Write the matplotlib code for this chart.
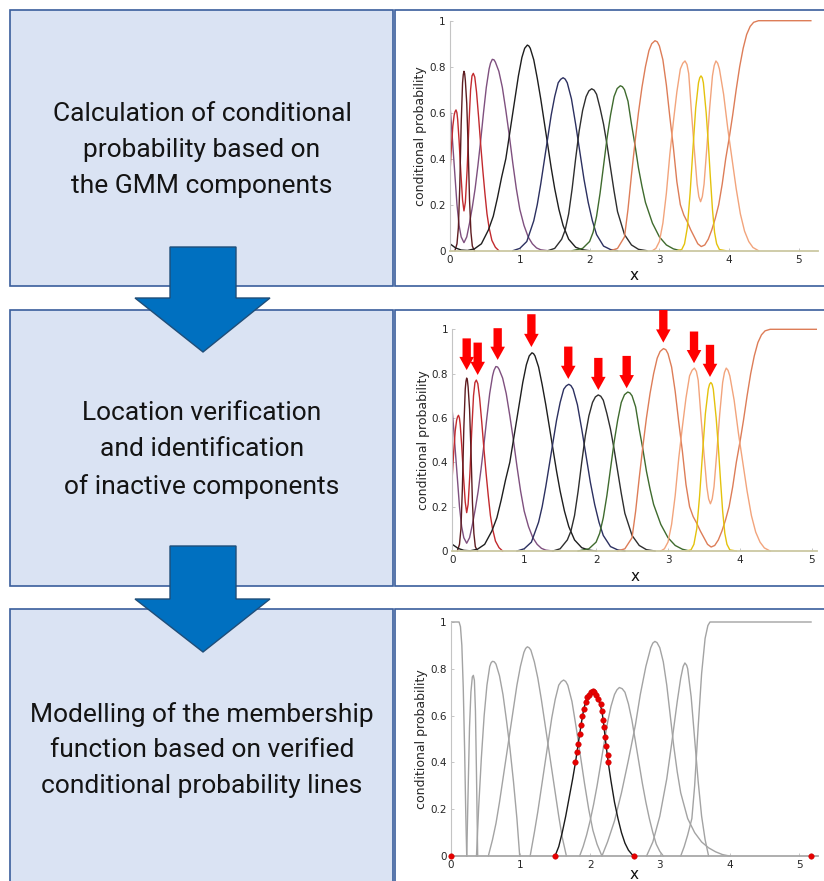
import matplotlib
matplotlib.use('Agg')
import matplotlib.pyplot as plt
from matplotlib.patches import Rectangle, Polygon

# ---------------- data ----------------
step_texts = ["Calculation of conditional\nprobability based on\nthe GMM components",
              "Location verification\nand identification\nof inactive components",
              "Modelling of the membership\nfunction based on verified\nconditional probability lines"]

y_ticks = [0, 0.2, 0.4, 0.6, 0.8, 1]
y_tick_labels = ['0', '0.2', '0.4', '0.6', '0.8', '1']
x_ticks = [0, 1, 2, 3, 4, 5]

red_x = [0, 0.02, 0.04, 0.06, 0.073, 0.086, 0.099, 0.11, 0.13, 0.155, 0.18, 0.20, 0.22, 0.245, 0.27, 0.295,
         0.315, 0.334, 0.355, 0.38, 0.41, 0.44, 0.47, 0.50, 0.53, 0.56, 0.60, 0.65, 0.70]
red_y = [0.34, 0.45, 0.54, 0.59, 0.605, 0.612, 0.60, 0.57, 0.48, 0.34, 0.22, 0.173, 0.21, 0.35, 0.54, 0.70,
         0.76, 0.771, 0.755, 0.69, 0.58, 0.46, 0.35, 0.25, 0.16, 0.10, 0.045, 0.015, 0.0]

maroon_x = [0.07, 0.10, 0.12, 0.14, 0.16, 0.18, 0.19, 0.20, 0.21, 0.22, 0.24, 0.26, 0.28, 0.30, 0.32, 0.35]
maroon_y = [0, 0.03, 0.10, 0.28, 0.55, 0.73, 0.765, 0.78, 0.77, 0.74, 0.64, 0.45, 0.22, 0.08, 0.02, 0]

purple_x = [0, 0.02, 0.04, 0.07, 0.10, 0.13, 0.16, 0.20, 0.24, 0.28, 0.32, 0.36, 0.40, 0.44, 0.48, 0.52, 0.56,
            0.58, 0.606, 0.63, 0.65, 0.70, 0.75, 0.80, 0.85, 0.90, 0.95, 1.00, 1.06, 1.12, 1.18, 1.24, 1.30, 1.40]
purple_y = [0.63, 0.55, 0.46, 0.33, 0.20, 0.11, 0.06, 0.035, 0.06, 0.12, 0.19, 0.27, 0.37, 0.48, 0.60, 0.71, 0.79,
            0.815, 0.832, 0.83, 0.82, 0.78, 0.71, 0.61, 0.50, 0.38, 0.27, 0.18, 0.11, 0.06, 0.03, 0.012, 0.004, 0]

black_x = [0, 0.08, 0.16, 0.25, 0.35, 0.45, 0.55, 0.62, 0.68, 0.74, 0.80, 0.86, 0.92, 0.98, 1.03, 1.07, 1.108,
           1.13, 1.15, 1.20, 1.25, 1.30, 1.35, 1.40, 1.45, 1.50, 1.56, 1.62, 1.70, 1.80, 1.90, 2.00]
black_y = [0.03, 0.012, 0.003, 0.001, 0.008, 0.03, 0.09, 0.15, 0.23, 0.32, 0.40, 0.52, 0.64, 0.76, 0.84, 0.88, 0.894,
           0.89, 0.88, 0.83, 0.75, 0.66, 0.56, 0.46, 0.36, 0.27, 0.18, 0.11, 0.05, 0.015, 0.004, 0]

navy_x = [0.90, 1.00, 1.10, 1.20, 1.25, 1.30, 1.35, 1.40, 1.45, 1.50, 1.55, 1.585, 1.62, 1.65, 1.68, 1.74, 1.80,
          1.86, 1.92, 1.98, 2.04, 2.10, 2.20, 2.30, 2.40]
navy_y = [0, 0.01, 0.04, 0.13, 0.20, 0.29, 0.39, 0.49, 0.59, 0.67, 0.73, 0.745, 0.752, 0.746, 0.73, 0.66, 0.55,
          0.43, 0.31, 0.21, 0.13, 0.07, 0.02, 0.005, 0]

grey_x = [1.40, 1.50, 1.60, 1.65, 1.70, 1.75, 1.80, 1.85, 1.90, 1.95, 1.99, 2.03, 2.065, 2.10, 2.15, 2.20, 2.25,
          2.30, 2.35, 2.40, 2.50, 2.60, 2.70, 2.82]
grey_y = [0, 0.01, 0.05, 0.09, 0.16, 0.27, 0.40, 0.52, 0.61, 0.67, 0.695, 0.704, 0.698, 0.68, 0.62, 0.55, 0.46,
          0.36, 0.26, 0.17, 0.07, 0.025, 0.006, 0]

green_x = [1.75, 1.90, 2.00, 2.05, 2.10, 2.15, 2.20, 2.25, 2.30, 2.35, 2.395, 2.44, 2.47, 2.50, 2.55, 2.60, 2.65,
           2.70, 2.75, 2.80, 2.90, 3.00, 3.10, 3.20, 3.30]
green_y = [0, 0.01, 0.04, 0.08, 0.15, 0.25, 0.37, 0.49, 0.59, 0.67, 0.705, 0.717, 0.713, 0.70, 0.65, 0.55, 0.46,
           0.36, 0.28, 0.21, 0.12, 0.06, 0.025, 0.008, 0]

coral_x = [2.30, 2.40, 2.50, 2.55, 2.60, 2.65, 2.70, 2.75, 2.80, 2.85, 2.89, 2.937, 2.97, 3.00, 3.05, 3.10, 3.15,
           3.20, 3.25, 3.30, 3.35, 3.40, 3.45, 3.50, 3.55, 3.60, 3.65, 3.70, 3.75, 3.80, 3.85, 3.90, 3.95, 4.00,
           4.05, 4.10, 4.15, 4.20, 4.25, 4.30, 4.35, 4.42, 5.17]
coral_y = [0, 0.01, 0.06, 0.18, 0.33, 0.47, 0.60, 0.71, 0.80, 0.87, 0.90, 0.913, 0.908, 0.89, 0.83, 0.72, 0.58,
           0.45, 0.30, 0.20, 0.155, 0.125, 0.09, 0.06, 0.03, 0.018, 0.025, 0.05, 0.09, 0.14, 0.20, 0.29, 0.40, 0.49,
           0.59, 0.70, 0.80, 0.88, 0.94, 0.975, 0.993, 1.0, 1.0]

lorange_x = [2.90, 2.95, 3.00, 3.05, 3.10, 3.15, 3.20, 3.25, 3.30, 3.335, 3.367, 3.395, 3.42, 3.46, 3.50, 3.54,
             3.565, 3.59, 3.615, 3.64, 3.68, 3.72, 3.76, 3.785, 3.81, 3.835, 3.86, 3.92, 3.98, 4.04, 4.10, 4.16,
             4.22, 4.28, 4.34, 4.42]
lorange_y = [0, 0.01, 0.04, 0.12, 0.25, 0.42, 0.56, 0.69, 0.79, 0.815, 0.825, 0.81, 0.77, 0.60, 0.44, 0.29,
             0.235, 0.213, 0.235, 0.29, 0.45, 0.62, 0.76, 0.805, 0.825, 0.815, 0.79, 0.68, 0.53, 0.40, 0.27, 0.16,
             0.085, 0.04, 0.014, 0]

yellow_x = [3.25, 3.32, 3.36, 3.40, 3.44, 3.48, 3.52, 3.56, 3.578, 3.596, 3.614, 3.63, 3.67, 3.70, 3.73, 3.76,
            3.79, 3.82, 3.86, 3.95]
yellow_y = [0, 0.005, 0.03, 0.10, 0.25, 0.44, 0.62, 0.73, 0.752, 0.76, 0.752, 0.73, 0.60, 0.47, 0.32, 0.18,
            0.08, 0.03, 0.005, 0]

# red arrows in the second panel: x position, tip height, tail height
arrow_x = [0.20, 0.353, 0.631, 1.10, 1.613, 2.031, 2.425, 2.935, 3.362, 3.584]
arrow_tip = [0.816, 0.794, 0.862, 0.92, 0.776, 0.726, 0.734, 0.94, 0.847, 0.785]
arrow_top = [0.959, 0.94, 1.005, 1.068, 0.922, 0.871, 0.88, 1.087, 0.99, 0.93]

# third panel: membership functions (grey) and the verified one (black)
g1_x = [0, 0.12, 0.14, 0.16, 0.18, 0.20, 0.215, 0.23]
g1_y = [1, 1, 0.98, 0.90, 0.72, 0.45, 0.20, 0]
g2_x = [0.23, 0.25, 0.27, 0.29, 0.31, 0.325, 0.34, 0.355, 0.37, 0.387]
g2_y = [0, 0.28, 0.55, 0.70, 0.765, 0.772, 0.75, 0.62, 0.35, 0]
g3_x = [0.37, 0.40, 0.44, 0.48, 0.52, 0.56, 0.58, 0.60, 0.625, 0.65, 0.70, 0.75, 0.80, 0.85, 0.90, 0.95, 0.99]
g3_y = [0, 0.20, 0.42, 0.60, 0.73, 0.81, 0.826, 0.832, 0.83, 0.82, 0.77, 0.69, 0.58, 0.46, 0.32, 0.16, 0]
g4_x = [0.54, 0.60, 0.65, 0.70, 0.75, 0.80, 0.85, 0.90, 0.95, 1.00, 1.05, 1.075, 1.10, 1.125, 1.15, 1.20, 1.25,
        1.30, 1.35, 1.40, 1.45, 1.50, 1.55, 1.60, 1.66]
g4_y = [0, 0.07, 0.14, 0.23, 0.33, 0.43, 0.53, 0.63, 0.73, 0.81, 0.87, 0.887, 0.894, 0.89, 0.88, 0.83, 0.76,
        0.67, 0.57, 0.47, 0.37, 0.27, 0.17, 0.08, 0]
g5_x = [1.14, 1.20, 1.25, 1.30, 1.35, 1.40, 1.45, 1.50, 1.55, 1.585, 1.62, 1.65, 1.68, 1.74, 1.80, 1.86, 1.92,
        1.98, 2.04, 2.10, 2.17]
g5_y = [0, 0.10, 0.19, 0.29, 0.39, 0.49, 0.59, 0.67, 0.73, 0.745, 0.752, 0.746, 0.73, 0.66, 0.55, 0.43, 0.31,
        0.20, 0.11, 0.05, 0]
g6_x = [1.85, 1.90, 1.95, 2.00, 2.05, 2.10, 2.15, 2.20, 2.25, 2.30, 2.35, 2.385, 2.42, 2.46, 2.50, 2.55, 2.60,
        2.65, 2.70, 2.75, 2.80, 2.85, 2.90, 2.95, 3.00, 3.05]
g6_y = [0, 0.04, 0.09, 0.15, 0.22, 0.30, 0.39, 0.48, 0.57, 0.64, 0.69, 0.71, 0.72, 0.715, 0.70, 0.65, 0.58,
        0.49, 0.40, 0.31, 0.23, 0.16, 0.10, 0.05, 0.02, 0]
g7_x = [2.17, 2.25, 2.35, 2.45, 2.55, 2.65, 2.72, 2.80, 2.87, 2.90, 2.93, 2.96, 3.00, 3.05, 3.10, 3.15, 3.20,
        3.25, 3.30, 3.40, 3.50, 3.60, 3.70, 3.80, 3.90, 4.00]
g7_y = [0, 0.06, 0.15, 0.27, 0.41, 0.56, 0.69, 0.81, 0.89, 0.91, 0.917, 0.912, 0.89, 0.83, 0.73, 0.60, 0.47,
        0.36, 0.27, 0.16, 0.10, 0.06, 0.035, 0.018, 0.006, 0]
g8_x = [2.81, 2.90, 3.00, 3.10, 3.17, 3.25, 3.30, 3.335, 3.36, 3.385, 3.40, 3.45, 3.50, 3.55, 3.60, 3.65, 3.70]
g8_y = [0, 0.06, 0.17, 0.33, 0.48, 0.66, 0.76, 0.81, 0.825, 0.815, 0.80, 0.68, 0.50, 0.32, 0.17, 0.07, 0]
g9_x = [3.30, 3.35, 3.40, 3.46, 3.50, 3.55, 3.60, 3.65, 3.69, 3.72, 5.17]
g9_y = [0, 0.04, 0.09, 0.16, 0.30, 0.55, 0.78, 0.93, 0.985, 1.0, 1.0]

member_x = [1.497, 1.55, 1.60, 1.65, 1.70, 1.75, 1.79, 1.83, 1.87, 1.91, 1.96, 1.99, 2.02, 2.04, 2.06, 2.09,
            2.12, 2.17, 2.20, 2.23, 2.26, 2.30, 2.35, 2.40, 2.45, 2.50, 2.55, 2.60, 2.634]
member_y = [0, 0.04, 0.10, 0.17, 0.25, 0.33, 0.40, 0.48, 0.56, 0.63, 0.68, 0.695, 0.703, 0.704, 0.70, 0.69,
            0.67, 0.62, 0.55, 0.47, 0.40, 0.32, 0.23, 0.16, 0.10, 0.055, 0.025, 0.007, 0]

dots_x = [0, 1.497, 1.79, 1.81, 1.83, 1.85, 1.87, 1.89, 1.91, 1.94, 1.96, 1.99, 2.02, 2.04, 2.06, 2.09, 2.12,
          2.15, 2.17, 2.19, 2.20, 2.22, 2.23, 2.25, 2.26, 2.634, 5.165]
dots_y = [0, 0, 0.40, 0.443, 0.48, 0.52, 0.56, 0.60, 0.63, 0.66, 0.68, 0.69, 0.70, 0.704, 0.70, 0.69, 0.67,
          0.65, 0.62, 0.58, 0.55, 0.51, 0.47, 0.43, 0.40, 0, 0]

# ---------------- figure ----------------
W, H = 824, 881
fig = plt.figure(figsize=(W / 100, H / 100), dpi=100)
bg = fig.add_axes([0, 0, 1, 1])
bg.set_xlim(0, W)
bg.set_ylim(H, 0)
bg.axis('off')

box_fill = '#DAE3F3'
box_edge = '#3A5E9C'
rows = [(10, 286), (310, 586), (609, 900)]
for (t, b) in rows:
    bg.add_patch(Rectangle((10, t), 383, b - t, facecolor=box_fill, edgecolor=box_edge, lw=1.2))
    bg.add_patch(Rectangle((395, t), 450, b - t, facecolor='white', edgecolor=box_edge, lw=1.2))

text_cy = [150, 450, 750]
for s, cy in zip(step_texts, text_cy):
    bg.text(202, cy, s, ha='center', va='center', fontsize=19, family='Roboto',
            linespacing=1.62, color='#141414')


def blue_arrow(top, head_y, tip):
    pts = [(170, top), (236, top), (236, head_y), (270, head_y), (203, tip), (135, head_y), (170, head_y)]
    bg.add_patch(Polygon(pts, closed=True, facecolor='#0070C0', edgecolor='#1F4E79', lw=1.0, zorder=5))


blue_arrow(247, 298, 352)
blue_arrow(546, 599, 652)


def px_axes(x0, x_unit, xmax, y0, y1, xpad):
    left = x0 / W
    width = x_unit * xmax / W
    bottom = 1 - y0 / H
    height = (y0 - y1) / H
    ax = fig.add_axes([left, bottom, width, height])
    ax.set_xlim(0, xmax)
    ax.set_ylim(0, 1)
    ax.patch.set_alpha(0)
    for s in ['top', 'right']:
        ax.spines[s].set_visible(False)
    ax.spines['left'].set_color('#C4C4C4')
    ax.spines['left'].set_linewidth(0.8)
    ax.set_xticks(x_ticks)
    ax.set_yticks(y_ticks)
    ax.set_yticklabels(y_tick_labels)
    ax.tick_params(direction='in', length=2.5, width=0.6, color='#BBBBBB', labelsize=7.5,
                   labelcolor='#262626', pad=3)
    ax.set_xlabel('x', fontsize=11, labelpad=xpad, color='#111111')
    ax.set_ylabel('conditional probability', fontsize=9, labelpad=1.5, color='#262626')
    return ax


def clip(ax, ln):
    ln.set_clip_path(Rectangle((0, -0.05), 1, 1.1, transform=ax.transAxes))


ax1 = px_axes(450, 69.8, 5.27, 250.7, 20.7, 2.5)
ax2 = px_axes(452.3, 71.9, 5.07, 551, 329.3, 2.5)
ax3 = px_axes(450.7, 69.7, 5.27, 856, 622, -2.5)

curves = [(purple_x, purple_y, '#7F507F'), (red_x, red_y, '#C22A2E'), (maroon_x, maroon_y, '#5E1C20'),
          (black_x, black_y, '#1E1E1E'), (navy_x, navy_y, '#2C3060'), (grey_x, grey_y, '#2E2E2E'),
          (green_x, green_y, '#3F6B2E'), (coral_x, coral_y, '#DD7D58'), (lorange_x, lorange_y, '#F2A47C'),
          (yellow_x, yellow_y, '#E4C20C')]

for ax in (ax1, ax2):
    ax.spines['bottom'].set_color('#CBC8A2')
    ax.spines['bottom'].set_linewidth(1.3)
    for xs, ys, c in curves:
        ln, = ax.plot(xs, ys, color=c, lw=1.0)
        clip(ax, ln)

for xa, ta, tt in zip(arrow_x, arrow_tip, arrow_top):
    ax2.annotate('', xy=(xa, ta), xytext=(xa, tt),
                 arrowprops=dict(arrowstyle='simple,head_length=0.95,head_width=1.05,tail_width=0.6',
                                 facecolor='#FF0000', edgecolor='none', shrinkA=0, shrinkB=0,
                                 mutation_scale=10),
                 annotation_clip=False)

ax3.spines['bottom'].set_color('#A8A8A8')
ax3.spines['bottom'].set_linewidth(1.3)
grey_curves = [(g1_x, g1_y), (g2_x, g2_y), (g3_x, g3_y), (g4_x, g4_y), (g5_x, g5_y), (g6_x, g6_y),
               (g7_x, g7_y), (g8_x, g8_y), (g9_x, g9_y)]
for xs, ys in grey_curves:
    ln, = ax3.plot(xs, ys, color='#A3A3A3', lw=1.0)
    clip(ax3, ln)
ln, = ax3.plot(member_x, member_y, color='#1A1A1A', lw=1.0)
clip(ax3, ln)
ax3.plot(dots_x, dots_y, 'o', color='#E60000', ms=4, mec='#C80000', mew=0.3, clip_on=False, zorder=5)

fig.savefig('out.png', dpi=100)
